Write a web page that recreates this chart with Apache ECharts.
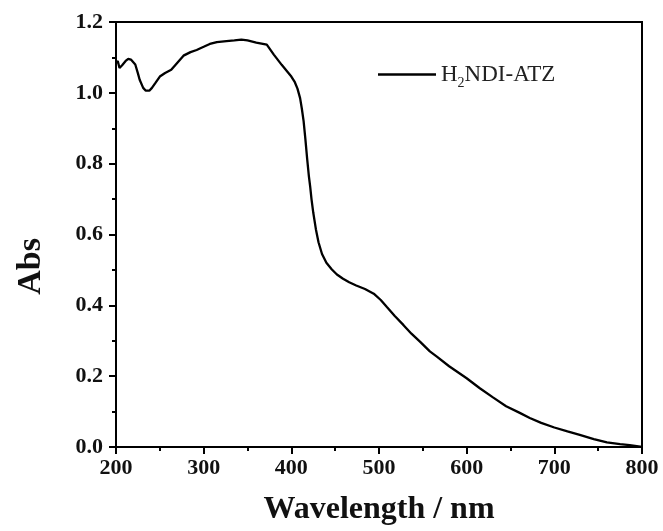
<!DOCTYPE html>
<html>
<head>
<meta charset="utf-8">
<script src="https://cdn.jsdelivr.net/npm/echarts@6/dist/echarts.min.js"></script>
<style>
html,body{margin:0;padding:0;background:#fff;}
#chart{width:663px;height:531px;}
</style>
</head>
<body>
<div id="chart"></div>
<script>
const seriesName = 'H2NDI-ATZ';
const wavelength = [200,202,204,205,207,209,211,214,217,219,222,225,227,231,234,236,238,241,245,250,256,263,270,277,285,292,300,307,315,326,335,343,350,360,372,380,389,396,400,404,407,410,412,414,416,418,420,421.5,423,425,428,431,435,440,446,452,459,466,474,484,494,502,509,518,528,537,547,558,566,580,600,615,630,645,660,672,685,700,715,729,745,760,775,786,800];
const absorbance = [1.084,1.09,1.07,1.065,1.078,1.08,1.09,1.096,1.094,1.093,1.08,1.055,1.037,1.014,1.006,1.004,1.006,1.014,1.028,1.046,1.056,1.065,1.085,1.105,1.115,1.121,1.13,1.138,1.143,1.146,1.148,1.150,1.148,1.142,1.136,1.108,1.079,1.058,1.046,1.03,1.012,0.985,0.955,0.92,0.87,0.815,0.765,0.735,0.70,0.662,0.615,0.578,0.545,0.52,0.502,0.487,0.475,0.465,0.456,0.446,0.433,0.415,0.395,0.37,0.344,0.32,0.297,0.27,0.255,0.228,0.194,0.166,0.14,0.115,0.097,0.082,0.068,0.055,0.044,0.034,0.022,0.013,0.008,0.005,0.0];
const xTicks = [200,300,400,500,600,700,800];
const yTicks = [0.0,0.2,0.4,0.6,0.8,1.0,1.2];

const data = wavelength.map((w,i)=>[w, absorbance[i]]);
const serif = '"Liberation Serif","Times New Roman",serif';
const chart = echarts.init(document.getElementById('chart'), null, {renderer:'canvas'});
chart.setOption({
  backgroundColor:'#fff',
  animation:false,
  grid:{left:116, right:21, top:22, bottom:82, show:true, borderColor:'#000', borderWidth:2, backgroundColor:'transparent'},
  legend:{
    left:373, top:58, itemWidth:58, itemHeight:2.5, itemGap:5,
    data:[{name:seriesName, icon:'rect'}],
    itemStyle:{color:'#000'},
    formatter:function(){return 'H{sub|2}NDI-ATZ';},
    textStyle:{fontFamily:serif, fontSize:23, color:'#222',
      rich:{sub:{fontFamily:serif, fontSize:14, color:'#222', padding:[18,0,0,0]}}}
  },
  graphic:[{
    type:'text', left:14, top:238, rotation:Math.PI/2,
    style:{text:'Abs', font:'bold 34px "Liberation Serif", serif', fill:'#111'}
  }],
  xAxis:{
    type:'value', min:xTicks[0], max:xTicks[xTicks.length-1], interval:100,
    name:'Wavelength / nm', nameLocation:'middle', nameGap:47,
    nameTextStyle:{fontFamily:serif, fontWeight:'bold', fontSize:32, color:'#111'},
    axisLine:{show:true, onZero:false, lineStyle:{color:'#000', width:2}},
    axisTick:{show:true, inside:false, length:7, lineStyle:{color:'#000', width:2}},
    minorTick:{show:true, splitNumber:2, length:4, lineStyle:{color:'#000', width:2}},
    splitLine:{show:false},
    axisLabel:{fontFamily:serif, fontWeight:'bold', fontSize:22, color:'#111', margin:10,
      formatter:v=>String(v)}
  },
  yAxis:{
    type:'value', min:yTicks[0], max:yTicks[yTicks.length-1], interval:0.2,
    axisLine:{show:true, onZero:false, lineStyle:{color:'#000', width:2}},
    axisTick:{show:true, inside:false, length:7, lineStyle:{color:'#000', width:2}},
    minorTick:{show:true, splitNumber:2, length:4, lineStyle:{color:'#000', width:2}},
    splitLine:{show:false},
    axisLabel:{fontFamily:serif, fontWeight:'bold', fontSize:22, color:'#111', margin:13,
      formatter:v=>v.toFixed(1)}
  },
  series:[{
    name:seriesName, type:'line', data:data, symbol:'none', smooth:false,
    lineStyle:{color:'#000', width:2.3}, itemStyle:{color:'#000'}
  }]
});
</script>
</body>
</html>
